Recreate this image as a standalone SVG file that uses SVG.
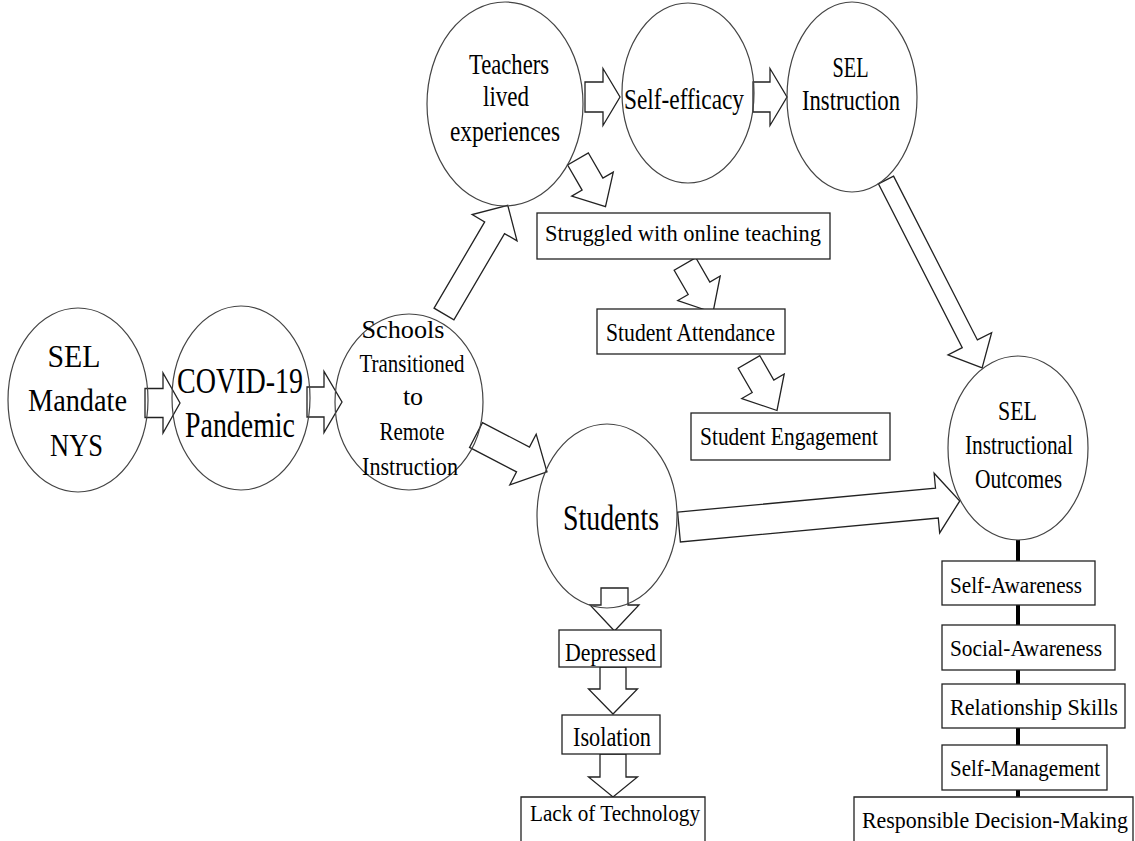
<svg xmlns="http://www.w3.org/2000/svg" width="1135" height="841" viewBox="0 0 1135 841">
<style>
.bg{fill:#fff}
.arr{fill:#fff;stroke:#222;stroke-width:1.3;stroke-linejoin:miter}
.ell{fill:none;stroke:#444;stroke-width:1.2}
.box{fill:#fff;stroke:#222;stroke-width:1.3}
.link{stroke:#000;stroke-width:4}
text{font-family:"Liberation Serif","Times New Roman",serif;fill:#000;text-anchor:middle}
</style>
<rect class="bg" x="0" y="0" width="1135" height="841"/>
<g id="connectors">
  <line class="link" x1="1018" y1="540" x2="1018" y2="800"/>
  <polygon class="arr" transform="translate(145,403)" points="0,-14.5 18,-14.5 18,-30 35,0 18,30 18,14.5 0,14.5"/>
  <polygon class="arr" transform="translate(307,402)" points="0,-15 17,-15 17,-30.5 35,0 17,30.5 17,15 0,15"/>
  <polygon class="arr" transform="translate(585,97)" points="0,-15 18,-15 18,-28.5 35,0 18,28.5 18,15 0,15"/>
  <polygon class="arr" transform="translate(753,97)" points="0,-15 17,-15 17,-28.5 34,0 17,28.5 17,15 0,15"/>
  <polygon class="arr" transform="translate(578,159) rotate(60)" points="0,-12 29,-12 29,-24 55,0 29,24 29,12 0,12"/>
  <polygon class="arr" transform="translate(685,264) rotate(60)" points="0,-12.5 28,-12.5 28,-24.5 56,0 28,24.5 28,12.5 0,12.5"/>
  <polygon class="arr" transform="translate(749,362) rotate(60)" points="0,-12.5 28,-12.5 28,-24.5 56,0 28,24.5 28,12.5 0,12.5"/>
  <polygon class="arr" transform="translate(444,314) rotate(-59.6)" points="0,-11.5 100,-11.5 100,-26 126,0 100,26 100,11.5 0,11.5"/>
  <polygon class="arr" transform="translate(476,435) rotate(27.5)" points="0,-14 53,-14 53,-28.5 80,0 53,28.5 53,14 0,14"/>
  <polygon class="arr" transform="translate(886,180) rotate(62.9)" points="0,-8.5 184,-8.5 184,-24.5 211,0 184,24.5 184,8.5 0,8.5"/>
  <polygon class="arr" transform="translate(679,527) rotate(-5.3)" points="0,-15 259,-15 259,-30 282,0 259,30 259,15 0,15"/>
  <polygon class="arr" transform="translate(614.5,588) rotate(90)" points="0,-13.5 17,-13.5 17,-24.5 43,0 17,24.5 17,13.5 0,13.5"/>
  <polygon class="arr" transform="translate(613,667) rotate(90)" points="0,-13 22,-13 22,-24.5 47,0 22,24.5 22,13 0,13"/>
  <polygon class="arr" transform="translate(613,754) rotate(90)" points="0,-13 23,-13 23,-24.5 43,0 23,24.5 23,13 0,13"/>
</g>
<g id="node-sel-mandate">
  <ellipse class="ell" cx="78" cy="400" rx="70" ry="92"/>
  <text x="74" y="367" font-size="32" textLength="53" lengthAdjust="spacingAndGlyphs">SEL</text>
  <text x="77.5" y="411" font-size="32" textLength="99" lengthAdjust="spacingAndGlyphs">Mandate</text>
  <text x="76.5" y="456" font-size="32" textLength="53" lengthAdjust="spacingAndGlyphs">NYS</text>
</g>
<g id="node-covid">
  <ellipse class="ell" cx="241" cy="398" rx="69" ry="92"/>
  <text x="240" y="393" font-size="36" textLength="126" lengthAdjust="spacingAndGlyphs">COVID-19</text>
  <text x="240" y="437" font-size="36" textLength="110" lengthAdjust="spacingAndGlyphs">Pandemic</text>
</g>
<g id="node-schools">
  <ellipse class="ell" cx="409" cy="402" rx="74" ry="88"/>
  <text x="403" y="338" font-size="26" textLength="83" lengthAdjust="spacingAndGlyphs">Schools</text>
  <text x="412" y="372" font-size="26" textLength="105" lengthAdjust="spacingAndGlyphs">Transitioned</text>
  <text x="413" y="405" font-size="26">to</text>
  <text x="412" y="440" font-size="26" textLength="65" lengthAdjust="spacingAndGlyphs">Remote</text>
  <text x="410" y="475" font-size="26" textLength="96" lengthAdjust="spacingAndGlyphs">Instruction</text>
</g>
<g id="node-teachers">
  <ellipse class="ell" cx="505" cy="104" rx="78" ry="102"/>
  <text x="509" y="74" font-size="30" textLength="80" lengthAdjust="spacingAndGlyphs">Teachers</text>
  <text x="506" y="106" font-size="30" textLength="46" lengthAdjust="spacingAndGlyphs">lived</text>
  <text x="505" y="141" font-size="30" textLength="110" lengthAdjust="spacingAndGlyphs">experiences</text>
</g>
<g id="node-self-efficacy">
  <ellipse class="ell" cx="688" cy="93" rx="66" ry="90"/>
  <text x="684" y="109" font-size="30" textLength="120" lengthAdjust="spacingAndGlyphs">Self-efficacy</text>
</g>
<g id="node-sel-instruction">
  <ellipse class="ell" cx="852" cy="97" rx="65" ry="95"/>
  <text x="850.5" y="77" font-size="29" textLength="36" lengthAdjust="spacingAndGlyphs">SEL</text>
  <text x="851" y="110" font-size="29" textLength="98" lengthAdjust="spacingAndGlyphs">Instruction</text>
</g>
<g id="node-struggled">
  <rect class="box" x="537" y="213" width="293" height="46"/>
  <text x="683" y="241" font-size="24" textLength="276" lengthAdjust="spacingAndGlyphs">Struggled with online teaching</text>
</g>
<g id="node-attendance">
  <rect class="box" x="597" y="309" width="188" height="45"/>
  <text x="690.5" y="341" font-size="26" textLength="169" lengthAdjust="spacingAndGlyphs">Student Attendance</text>
</g>
<g id="node-engagement">
  <rect class="box" x="691" y="413" width="199" height="47"/>
  <text x="789" y="445" font-size="26" textLength="178" lengthAdjust="spacingAndGlyphs">Student Engagement</text>
</g>
<g id="node-students">
  <ellipse class="ell" cx="607" cy="516" rx="70" ry="92"/>
  <text x="611" y="530" font-size="35" textLength="96" lengthAdjust="spacingAndGlyphs">Students</text>
</g>
<g id="node-outcomes">
  <ellipse class="ell" cx="1018" cy="448" rx="70" ry="92"/>
  <text x="1017.5" y="420" font-size="28" textLength="39" lengthAdjust="spacingAndGlyphs">SEL</text>
  <text x="1019" y="454" font-size="28" textLength="108" lengthAdjust="spacingAndGlyphs">Instructional</text>
  <text x="1018.5" y="488" font-size="28" textLength="87" lengthAdjust="spacingAndGlyphs">Outcomes</text>
</g>
<g id="node-depressed">
  <rect class="box" x="559" y="630" width="102" height="37"/>
  <text x="610.5" y="661" font-size="26" textLength="91" lengthAdjust="spacingAndGlyphs">Depressed</text>
</g>
<g id="node-isolation">
  <rect class="box" x="562" y="715" width="98" height="39"/>
  <text x="612" y="746" font-size="27" textLength="78" lengthAdjust="spacingAndGlyphs">Isolation</text>
</g>
<g id="node-lack-technology">
  <path class="box" d="M521,841 V797 H705 V841"/>
  <text x="615" y="821" font-size="24" textLength="170" lengthAdjust="spacingAndGlyphs">Lack of Technology</text>
</g>
<g id="node-self-awareness">
  <rect class="box" x="942" y="561" width="153" height="44"/>
  <text x="1016" y="593" font-size="24" textLength="132" lengthAdjust="spacingAndGlyphs">Self-Awareness</text>
</g>
<g id="node-social-awareness">
  <rect class="box" x="942" y="625" width="173" height="45"/>
  <text x="1026" y="656" font-size="24" textLength="152" lengthAdjust="spacingAndGlyphs">Social-Awareness</text>
</g>
<g id="node-relationship">
  <rect class="box" x="942" y="684" width="183" height="44"/>
  <text x="1034" y="715" font-size="23" textLength="168" lengthAdjust="spacingAndGlyphs">Relationship Skills</text>
</g>
<g id="node-self-management">
  <rect class="box" x="942" y="745" width="165" height="45"/>
  <text x="1025" y="776" font-size="24" textLength="150" lengthAdjust="spacingAndGlyphs">Self-Management</text>
</g>
<g id="node-decision-making">
  <path class="box" d="M854,841 V797 H1133 V841"/>
  <text x="995" y="828" font-size="23" textLength="266" lengthAdjust="spacingAndGlyphs">Responsible Decision-Making</text>
</g>
</svg>
